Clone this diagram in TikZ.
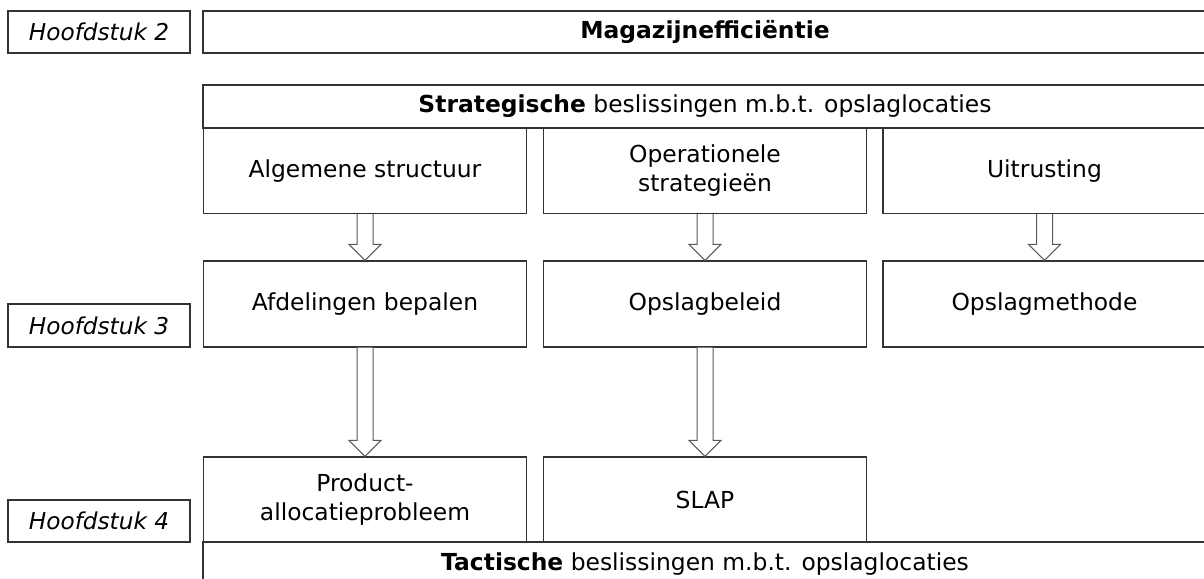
\documentclass[tikz,border=0pt]{standalone}
\usepackage{fontspec}
\setmainfont{DejaVu Sans}
\usetikzlibrary{calc}
\tikzset{
  box/.style={draw=black!80, line width=1.2pt, fill=white, inner sep=0pt, align=center,
    font=\fontsize{23.4}{29.5}\selectfont},
  chap/.style={box, minimum width=182pt, minimum height=42pt, font=\fontsize{23.2}{27}\selectfont\itshape},
  col/.style={box, minimum width=323pt, minimum height=85.5pt},
  wide/.style={box, minimum width=1004pt, minimum height=43pt},
  blockarrow/.style={draw=black!65, line width=1pt, fill=white},
}
\newcommand\hollowarrow[2]{%
  \draw[blockarrow] let \p1=(#1), \p2=(#2) in
    (\x1-8pt,\y1) -- (\x1-8pt,\y2+16pt) -- (\x1-16pt,\y2+16pt) -- (\x2,\y2)
    -- (\x1+16pt,\y2+16pt) -- (\x1+8pt,\y2+16pt) -- (\x1+8pt,\y1);}
\begin{document}
\begin{tikzpicture}[x=1pt,y=-1pt]
\useasboundingbox (0,0) rectangle (1204,578);
% chapters
\node[chap] (h2) at (99,32) {Hoofdstuk 2};
\node[chap, minimum height=43pt] (h3) at (99,325.5) {Hoofdstuk 3};
\node[chap] (h4) at (99,521) {Hoofdstuk 4};
% top
\node[wide, minimum height=42pt] (mag) at (705,32) {\bfseries Magazijnefficiëntie};
\node[wide] (strat) at (705,106.5) {\textbf{Strategische} beslissingen m.b.t. opslaglocaties};
% row 1
\node[col] (a1) at (365,170.75) {Algemene structuur};
\node[col] (o1) at (705,170.75) {Operationele\\strategieën};
\node[col] (u1) at (1044.5,170.75) {Uitrusting};
% row 2
\node[col, minimum height=86pt] (a2) at (365,304) {Afdelingen bepalen};
\node[col, minimum height=86pt] (o2) at (705,304) {Opslagbeleid};
\node[col, minimum height=86pt] (u2) at (1044.5,304) {Opslagmethode};
% row 3
\node[col, minimum height=85pt] (p3) at (365,499.5) {Product-\\allocatieprobleem};
\node[col, minimum height=85pt] (s3) at (705,499.5) {SLAP};
\node[wide, minimum height=44pt] (tact) at (705,564) {\textbf{Tactische} beslissingen m.b.t. opslaglocaties};
% arrows
\hollowarrow{a1.south}{a2.north}
\hollowarrow{o1.south}{o2.north}
\hollowarrow{u1.south}{u2.north}
\hollowarrow{a2.south}{p3.north}
\hollowarrow{o2.south}{s3.north}
\end{tikzpicture}
\end{document}
